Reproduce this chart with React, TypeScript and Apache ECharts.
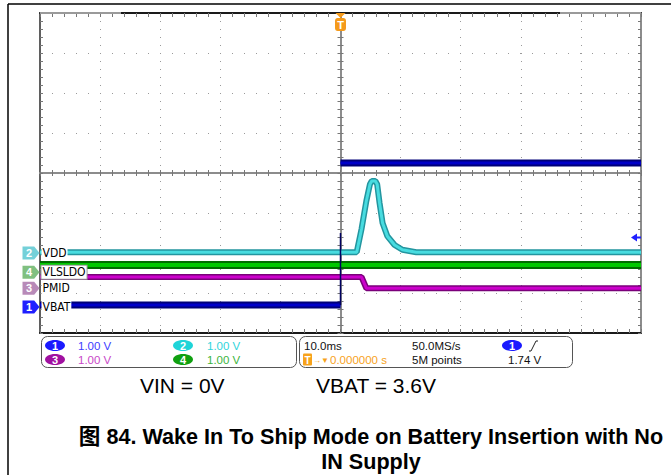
import React, { useEffect, useRef } from "react";
import * as echarts from "echarts";

// ---- axis scales (10 ms/div horizontally, 1 V/div vertically, 8 divisions) ----
const timeMin = -50;
const timeMax = 50;
const timeDiv = 10;
const divMin = -4;
const divMax = 4;

// ---- channels ----
const channelNames = ["VBAT", "VDD", "PMID", "VLSLDO"];
const channelNumbers = ["1", "2", "3", "4"];
const channelOffsets = [-3.35, -2.0, -2.88, -2.48]; // ground marker positions, in divisions
const channelScales = ["1.00 V", "1.00 V", "1.00 V", "1.00 V"];

// ---- traces (time in ms, volts) ----
const vbatTime = [-50, 0, 0, 0, 50];
const vbatVolts: (number | null)[] = [0.05, 0.05, null, 3.6, 3.6];
const vbatEdgeTime = [0, 0];
const vbatEdgeVolts = [0.05, 1.85];
const vddTime = [-50, 2.7, 3.5, 4.3, 4.9, 5.2, 5.8, 6.1, 6.5, 7.0, 7.8, 9.0, 10.3, 12.6, 50];
const vddVolts = [0.02, 0.02, 0.6, 1.3, 1.72, 1.8, 1.8, 1.72, 1.25, 0.75, 0.42, 0.2, 0.08, 0.02, 0.02];
const pmidTime = [-50, 3.5, 4.3, 50];
const pmidVolts = [0.28, 0.28, 0.0, 0.0];
const vlsldoTime = [-50, 50];
const vlsldoVolts = [0.18, 0.18];
const triggerTime = 0;
const triggerLevel = 1.74;

// ---- readout texts ----
const horizScale = "10.0ms";
const sampleRate = "50.0MS/s";
const recordLength = "5M points";
const triggerPos = "0.000000 s";
const condLeft = "VIN = 0V";
const condRight = "VBAT = 3.6V";
const captionLine1 = "图 84. Wake In To Ship Mode on Battery Insertion with No";
const captionLine2 = "IN Supply";

const scopeFont = '"Liberation Sans Narrow", "DejaVu Sans Condensed", "Liberation Sans", Arial, sans-serif';
const uiFont = '"Liberation Sans", Arial, sans-serif';
const capFont = '"Liberation Sans", Arial, "Noto Sans CJK SC", sans-serif';

const toData = (t: number[], v: (number | null)[], off: number) =>
  t.map((x, i) => (v[i] == null ? [x, "-"] : [x, (v[i] as number) + off]));

const band = (name: string, data: any[], outer: string, inner: string, wo: number, wi: number) => [
  { type: "line", name, data, symbol: "none", silent: true, lineStyle: { color: outer, width: wo }, connectNulls: false },
  { type: "line", name, data, symbol: "none", silent: true, lineStyle: { color: inner, width: wi }, connectNulls: false },
];

const txt = (text: string, x: number, y: number, fill: string, extra: any = {}) => ({
  type: "text",
  z: 50,
  style: {
    text, x, y, fill,
    fontSize: 11.5,
    fontFamily: uiFont,
    align: "left",
    verticalAlign: "middle",
    textAlign: "left",
    textVerticalAlign: "middle",
    ...extra,
  },
});

const pill = (num: string, cx: number, cy: number, fill: string) => [
  { type: "ellipse", z: 50, shape: { cx, cy, rx: 10, ry: 5.5 }, style: { fill } },
  txt(num, cx, cy, "#fff", { align: "center", textAlign: "center", fontWeight: "bold", fontSize: 11 }),
];

export default function App() {
  const ref = useRef<HTMLDivElement>(null);
  useEffect(() => {
    if (!ref.current) return;
    const chart = echarts.init(ref.current, null, { renderer: "svg" });

    const tickStyle = { color: "#777", width: 1 };
    const xBase: any = { type: "value", min: timeMin, max: timeMax, interval: timeDiv, axisLabel: { show: false }, splitLine: { show: false } };
    const yBase: any = { type: "value", min: divMin, max: divMax, interval: 1, axisLabel: { show: false }, splitLine: { show: false } };

    const tagColors = ["#1f1fff", "#74d0d8", "#b88ab8", "#80c080"];
    const tagPath = "path://M0 0 H11 L16 6.5 L11 13 H0 Z";

    const markers: any[] = [];
    channelNames.forEach((name, i) => {
      markers.push({
        coord: [timeMin, channelOffsets[i]],
        symbol: tagPath,
        symbolSize: [17, 13],
        symbolOffset: [-9, 0],
        itemStyle: { color: tagColors[i] },
        label: { show: true, position: "inside", formatter: channelNumbers[i], color: "#fff", fontSize: 11, fontWeight: "bold", fontFamily: uiFont, offset: [-2, 0] },
      });
      markers.push({
        coord: [timeMin, channelOffsets[i]],
        symbol: "rect",
        symbolSize: 1,
        itemStyle: { color: "rgba(0,0,0,0)" },
        label: {
          show: true, position: "right", distance: 1, formatter: name, color: "#000",
          fontSize: 12, fontFamily: scopeFont, backgroundColor: "#fff",
          padding: [1, 1, 0, 1],
          borderColor: name === "VLSLDO" ? "#999" : "rgba(0,0,0,0)",
          borderWidth: name === "VLSLDO" ? 1 : 0,
        },
      });
    });
    // trigger position marker
    markers.push({
      coord: [triggerTime, divMax], symbol: "path://M0 0 H10 L5 5 Z", symbolSize: [10, 5], symbolOffset: [0, 2.5],
      itemStyle: { color: "#f59a1b" }, label: { show: false },
    });
    markers.push({
      coord: [triggerTime, divMax], symbol: "roundRect", symbolSize: [11, 13], symbolOffset: [0, 11.5],
      itemStyle: { color: "#f59a1b" },
      label: { show: true, position: "inside", formatter: "T", color: "#fff", fontWeight: "bold", fontSize: 11, fontFamily: uiFont },
    });
    // trigger level marker
    markers.push({
      coord: [timeMax, channelOffsets[0] + triggerLevel], symbol: "path://M0 4 L6 0 L6 3 L10 3 L10 5 L6 5 L6 8 Z",
      symbolSize: [10, 8], symbolOffset: [-5, 0], itemStyle: { color: "#2020ff" }, label: { show: false },
    });

    const series: any[] = [
      ...band("VDD", toData(vddTime, vddVolts, channelOffsets[1]), "#23959f", "#48dce0", 6, 3),
      ...band("VLSLDO", toData(vlsldoTime, vlsldoVolts, channelOffsets[3]), "#006c00", "#00c800", 8, 4),
      ...band("PMID", toData(pmidTime, pmidVolts, channelOffsets[2]), "#7a007a", "#cc00cc", 6, 3),
      ...band("VBAT", toData(vbatTime, vbatVolts, channelOffsets[0]), "#000078", "#0000c8", 7, 3),
      {
        type: "line", name: "VBAT edge", symbol: "none", silent: true,
        data: toData(vbatEdgeTime, vbatEdgeVolts, channelOffsets[0]),
        lineStyle: { color: "#000060", width: 1.5 },
        markPoint: { data: markers, animation: false, silent: true },
      },
    ];

    const graphic: any[] = [
      // page frame
      { type: "line", z: 60, shape: { x1: 8, y1: 4, x2: 671, y2: 4 }, style: { stroke: "#000", lineWidth: 1.5 } },
      { type: "line", z: 60, shape: { x1: 8, y1: 4, x2: 8, y2: 475 }, style: { stroke: "#000", lineWidth: 1.5 } },
      // record bar segments on top edge
      { type: "line", z: 60, shape: { x1: 40, y1: 13, x2: 121, y2: 13 }, style: { stroke: "#9a9a9a", lineWidth: 2 } },
      { type: "line", z: 60, shape: { x1: 560, y1: 13, x2: 641, y2: 13 }, style: { stroke: "#9a9a9a", lineWidth: 2 } },
      // readout boxes
      { type: "rect", z: 40, shape: { x: 41.5, y: 336.5, width: 255, height: 31, r: 6 }, style: { fill: "#fff", stroke: "#555", lineWidth: 1 } },
      { type: "rect", z: 40, shape: { x: 299.5, y: 336.5, width: 273, height: 31, r: 6 }, style: { fill: "#fff", stroke: "#555", lineWidth: 1 } },
      ...pill(channelNumbers[0], 55, 345.5, "#1a1aff"),
      txt(channelScales[0], 78, 346, "#4040ff"),
      ...pill(channelNumbers[1], 183, 345.5, "#1ed4d8"),
      txt(channelScales[1], 207, 346, "#30d4dc"),
      ...pill(channelNumbers[2], 55, 359.5, "#a010a0"),
      txt(channelScales[2], 78, 360, "#c848c8"),
      ...pill(channelNumbers[3], 183, 359.5, "#10a010"),
      txt(channelScales[3], 207, 360, "#3cb43c"),
      txt(horizScale, 304, 346, "#111"),
      txt(sampleRate, 412, 346, "#111"),
      ...pill(channelNumbers[0], 512, 345.5, "#1a1aff"),
      { type: "polyline", z: 50, shape: { points: [[529, 351], [531, 351], [536, 341], [538, 341]] }, style: { stroke: "#222", lineWidth: 1, fill: null } },
      { type: "rect", z: 50, shape: { x: 303, y: 353.5, width: 9, height: 12, r: 1 }, style: { fill: "#f7a21b" } },
      txt("T", 307.5, 360, "#fff", { align: "center", textAlign: "center", fontWeight: "bold", fontSize: 10 }),
      txt("→▼", 313, 360, "#f7a21b", { fontSize: 8 }),
      txt(triggerPos, 330, 360, "#f7a21b"),
      txt(recordLength, 412, 360, "#111"),
      txt(`${triggerLevel.toFixed(2)} V`, 508, 360, "#111"),
      // conditions and caption
      txt(condLeft, 140, 385, "#000", { fontSize: 21 }),
      txt(condRight, 316, 385, "#000", { fontSize: 21 }),
      txt(captionLine1, 371, 436, "#000", { fontSize: 21.6, fontWeight: "bold", fontFamily: capFont, align: "center", textAlign: "center" }),
      txt(captionLine2, 371, 461, "#000", { fontSize: 21.6, fontWeight: "bold", fontFamily: capFont, align: "center", textAlign: "center" }),
    ];

    chart.setOption({
      animation: false,
      backgroundColor: "#fff",
      grid: { left: 40, top: 13, width: 601, height: 320, containLabel: false },
      xAxis: [
        {
          ...xBase, position: "bottom",
          axisLine: { show: true, onZero: false, lineStyle: { color: "#1a1a1a", width: 2 } },
          axisTick: { show: true, inside: true, length: 4, lineStyle: tickStyle },
          minorTick: { show: true, splitNumber: 5, length: 4, lineStyle: tickStyle },
          splitLine: { show: true, lineStyle: { color: "#9a9a9a", width: 1, type: [1, 7] } },
        },
        {
          ...xBase, position: "top",
          axisLine: { show: true, onZero: false, lineStyle: { color: "#1a1a1a", width: 2 } },
          axisTick: { show: true, inside: true, length: 4, lineStyle: tickStyle },
          minorTick: { show: true, splitNumber: 5, length: 4, lineStyle: tickStyle },
        },
        {
          ...xBase, position: "bottom",
          axisLine: { show: true, onZero: true, onZeroAxisIndex: 0, lineStyle: { color: "#8c8c8c", width: 2 } },
          axisTick: { show: true, inside: true, length: 3, lineStyle: tickStyle },
          minorTick: { show: true, splitNumber: 5, length: 3, lineStyle: tickStyle },
        },
        {
          ...xBase, position: "top",
          axisLine: { show: true, onZero: true, onZeroAxisIndex: 0, lineStyle: { color: "#8c8c8c", width: 2 } },
          axisTick: { show: true, inside: true, length: 3, lineStyle: tickStyle },
          minorTick: { show: true, splitNumber: 5, length: 3, lineStyle: tickStyle },
        },
      ],
      yAxis: [
        {
          ...yBase, position: "left",
          axisLine: { show: true, onZero: false, lineStyle: { color: "#2a2a2a", width: 1.5 } },
          axisTick: { show: true, inside: true, length: 3, lineStyle: tickStyle },
          minorTick: { show: true, splitNumber: 5, length: 3, lineStyle: tickStyle },
          splitLine: { show: true, lineStyle: { color: "#9a9a9a", width: 1, type: [1, 11] } },
        },
        {
          ...yBase, position: "right",
          axisLine: { show: true, onZero: false, lineStyle: { color: "#8c8c8c", width: 2 } },
          axisTick: { show: true, inside: true, length: 3, lineStyle: tickStyle },
          minorTick: { show: true, splitNumber: 5, length: 3, lineStyle: tickStyle },
        },
        {
          ...yBase, position: "left",
          axisLine: { show: true, onZero: true, onZeroAxisIndex: 0, lineStyle: { color: "#8c8c8c", width: 2 } },
          axisTick: { show: true, inside: true, length: 3, lineStyle: tickStyle },
          minorTick: { show: true, splitNumber: 5, length: 3, lineStyle: tickStyle },
        },
        {
          ...yBase, position: "right",
          axisLine: { show: true, onZero: true, onZeroAxisIndex: 0, lineStyle: { color: "#8c8c8c", width: 2 } },
          axisTick: { show: true, inside: true, length: 3, lineStyle: tickStyle },
          minorTick: { show: true, splitNumber: 5, length: 3, lineStyle: tickStyle },
        },
      ],
      series,
      graphic,
    });
    return () => chart.dispose();
  }, []);
  return (
    <div
      ref={ref}
      style={{ position: "absolute", left: 0, top: 0, width: 671, height: 475, background: "#fff" }}
    />
  );
}
